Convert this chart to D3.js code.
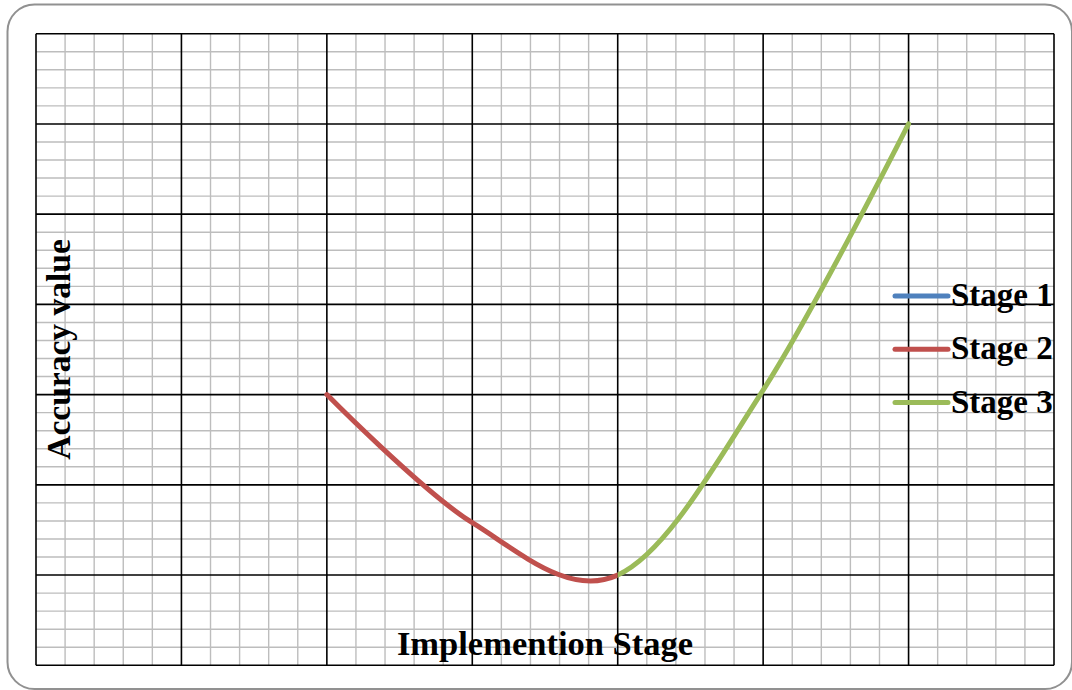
<!DOCTYPE html>
<html>
<head>
<meta charset="utf-8">
<script src="https://cdn.jsdelivr.net/npm/d3@7"></script>
<style>
  body { margin: 0; background: #fff; }
  svg { display: block; }
  text { font-family: "Liberation Serif", "Times New Roman", serif; font-weight: bold; fill: #000; }
</style>
</head>
<body>
<div class="chart"></div>
<script>
/* chart data */
const seriesNames = ["Stage 1", "Stage 2", "Stage 3"];
const seriesColors = ["#4F81BD", "#C0504D", "#9BBB59"];
const stage1X = [];
const stage1Y = [];
const stage2X = [2, 3, 4];
const stage2Y = [3, 1.58, 1];
const stage3X = [4, 5, 6];
const stage3Y = [1, 3.05, 6];
const xTitle = "Implemention Stage";
const yTitle = "Accuracy value";

/* svg */
const width = 1072;
const height = 690;
const svg = d3.select(".chart").append("svg")
  .attr("width", width)
  .attr("height", height);

/* outer rounded frame */
svg.append("rect")
  .attr("x", 7.5).attr("y", 4.5)
  .attr("width", 1064.5).attr("height", 684.5)
  .attr("rx", 27).attr("ry", 27)
  .attr("fill", "#fff")
  .attr("stroke", "#919191")
  .attr("stroke-width", 2);

/* plot area and scales */
const plot = { left: 36, right: 1054, top: 33.7, bottom: 665.3 };
const x = d3.scaleLinear().domain([0, 7]).range([plot.left, plot.right]);
const y = d3.scaleLinear().domain([0, 7]).range([plot.bottom, plot.top]);

const minorTicks = d3.range(0, 35).map(i => i / 5).filter(v => v % 1 !== 0);
const majorTicks = d3.range(0, 8);

/* minor grid */
const grid = svg.append("g").attr("class", "grid");
grid.selectAll("line.vminor")
  .data(minorTicks)
  .join("line")
  .attr("class", "vminor")
  .attr("x1", d => x(d)).attr("x2", d => x(d))
  .attr("y1", plot.top).attr("y2", plot.bottom)
  .attr("stroke", "#bdbdbd").attr("stroke-width", 1.4);
grid.selectAll("line.hminor")
  .data(minorTicks)
  .join("line")
  .attr("class", "hminor")
  .attr("y1", d => y(d)).attr("y2", d => y(d))
  .attr("x1", plot.left).attr("x2", plot.right)
  .attr("stroke", "#bdbdbd").attr("stroke-width", 1.4);

/* major grid */
grid.selectAll("line.vmajor")
  .data(majorTicks)
  .join("line")
  .attr("class", "vmajor")
  .attr("x1", d => x(d)).attr("x2", d => x(d))
  .attr("y1", plot.top).attr("y2", plot.bottom)
  .attr("stroke", "#000").attr("stroke-width", 1.6);
grid.selectAll("line.hmajor")
  .data(majorTicks)
  .join("line")
  .attr("class", "hmajor")
  .attr("y1", d => y(d)).attr("y2", d => y(d))
  .attr("x1", plot.left).attr("x2", plot.right)
  .attr("stroke", "#000").attr("stroke-width", 1.6);

/* smoothed lines: stages share one smooth curve, each coloured over its own range */
const toPoints = (xs, ys) => xs.map((v, i) => [v, ys[i]]);
const p2 = toPoints(stage2X, stage2Y);
const p3 = toPoints(stage3X, stage3Y);
const line = d3.line()
  .x(d => x(d[0]))
  .y(d => y(d[1]))
  .curve(d3.curveCardinal.tension(0));

const defs = svg.append("defs");
defs.append("clipPath").attr("id", "clip2")
  .append("rect")
  .attr("x", x(d3.min(stage2X)) - 10).attr("y", 0)
  .attr("width", x(d3.max(stage2X)) - x(d3.min(stage2X)) + 10).attr("height", height);
defs.append("clipPath").attr("id", "clip3")
  .append("rect")
  .attr("x", x(d3.min(stage3X))).attr("y", 0)
  .attr("width", x(d3.max(stage3X)) - x(d3.min(stage3X)) + 10).attr("height", height);

svg.append("path")
  .datum(p2.concat(p3.slice(1, 2)))
  .attr("d", line)
  .attr("clip-path", "url(#clip2)")
  .attr("fill", "none")
  .attr("stroke", seriesColors[1])
  .attr("stroke-width", 5)
  .attr("stroke-linecap", "round")
  .attr("stroke-linejoin", "round");

svg.append("path")
  .datum(p2.slice(-2, -1).concat(p3))
  .attr("d", line)
  .attr("clip-path", "url(#clip3)")
  .attr("fill", "none")
  .attr("stroke", seriesColors[2])
  .attr("stroke-width", 5)
  .attr("stroke-linecap", "round")
  .attr("stroke-linejoin", "round");

/* legend */
const legend = svg.append("g")
  .attr("transform", "translate(893,296)")
  .selectAll("g")
  .data(seriesNames)
  .join("g")
  .attr("transform", (d, i) => `translate(0,${i * 53.3})`);
legend.append("line")
  .attr("x1", 2).attr("x2", 55)
  .attr("stroke", (d, i) => seriesColors[i])
  .attr("stroke-width", 5)
  .attr("stroke-linecap", "round");
legend.append("text")
  .attr("x", 58).attr("y", 10)
  .style("font-size", "33px")
  .text(d => d);

/* axis titles */
svg.append("text")
  .attr("x", (plot.left + plot.right) / 2)
  .attr("y", 655)
  .attr("text-anchor", "middle")
  .style("font-size", "34.5px")
  .text(xTitle);

svg.append("text")
  .attr("transform", `translate(70,${(plot.top + plot.bottom) / 2}) rotate(-90)`)
  .attr("text-anchor", "middle")
  .style("font-size", "33.5px")
  .text(yTitle);
</script>
</body>
</html>
